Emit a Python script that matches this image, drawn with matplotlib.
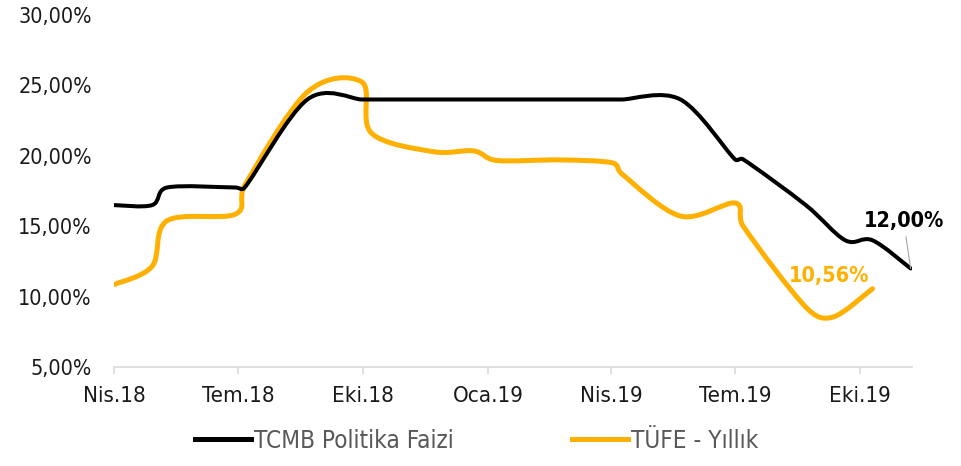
import matplotlib
matplotlib.use("Agg")
import matplotlib.pyplot as plt
import matplotlib.dates as mdates
from matplotlib import font_manager
from matplotlib.path import Path
from matplotlib.patches import PathPatch
from matplotlib.lines import Line2D
from matplotlib.ticker import FuncFormatter
import numpy as np
import pandas as pd

# ---- data ----
cpi_dates = [
    "2018-04-01", "2018-04-29", "2018-05-10", "2018-06-29", "2018-07-06",
    "2018-08-21", "2018-09-30", "2018-10-07", "2018-11-21", "2018-12-21",
    "2019-01-07", "2019-02-23", "2019-04-02", "2019-04-09", "2019-05-22",
    "2019-07-01", "2019-07-07", "2019-08-22", "2019-09-11", "2019-10-10",
]
cpi_values = [
    10.85, 12.15, 15.39, 15.85, 17.90,
    24.52, 25.24, 21.62, 20.30, 20.35,
    19.67, 19.71, 19.50, 18.71, 15.72,
    16.65, 15.01, 9.26, 8.55, 10.56,
]

rate_dates = [
    "2018-04-01", "2018-04-29", "2018-05-10", "2018-06-29", "2018-07-06",
    "2018-08-21", "2018-09-30", "2018-10-07", "2018-11-21", "2018-12-21",
    "2019-01-07", "2019-02-23", "2019-04-02", "2019-04-09", "2019-05-22",
    "2019-07-01", "2019-07-07", "2019-08-22", "2019-09-20", "2019-10-10",
    "2019-11-07",
]
rate_values = [
    16.50, 16.50, 17.75, 17.75, 17.75,
    24.00, 24.00, 24.00, 24.00, 24.00,
    24.00, 24.00, 24.00, 24.00, 24.00,
    19.75, 19.75, 16.50, 14.00, 14.00,
    12.00,
]

tick_dates = ["2018-04-01", "2018-07-01", "2018-10-01", "2019-01-01",
              "2019-04-01", "2019-07-01", "2019-10-01"]
tick_labels = ["Nis.18", "Tem.18", "Eki.18", "Oca.19", "Nis.19", "Tem.19", "Eki.19"]

RATE_NAME = "TCMB Politika Faizi"
CPI_NAME = "TÜFE - Yıllık"
RATE_COLOR = "#000000"
CPI_COLOR = "#FFB000"


def pick_font():
    """Prefer a condensed sans (the reference uses a narrow face)."""
    entries = font_manager.fontManager.ttflist
    for e in entries:
        if e.name == "DejaVu Sans" and "condensed" in str(e.stretch) and e.weight in (400, "normal"):
            return "DejaVu Sans", "condensed", 15.5
    names = {e.name for e in entries}
    if "Liberation Sans Narrow" in names:
        return "Liberation Sans Narrow", "normal", 16
    return "DejaVu Sans", "normal", 13.5


FONT, STRETCH, FS = pick_font()
plt.rcParams["font.family"] = [FONT, "DejaVu Sans"]
plt.rcParams["font.stretch"] = STRETCH


def smooth_path(ax, xs, ys):
    """Excel-like smoothed line: Bezier segments, Catmull-Rom tangents capped
    at half the segment length (computed in pixel space)."""
    pts = ax.transData.transform(np.column_stack([xs, ys]))
    n = len(pts)
    verts = [pts[0]]
    codes = [Path.MOVETO]
    for i in range(n - 1):
        p0 = pts[i - 1] if i > 0 else pts[i]
        p1 = pts[i]
        p2 = pts[i + 1]
        p3 = pts[i + 2] if i + 2 < n else pts[i + 1]
        d02 = np.hypot(*(p2 - p0))
        d12 = np.hypot(*(p2 - p1))
        d13 = np.hypot(*(p3 - p1))
        fa = 1 / 6 if d02 / 6 < d12 / 2 else d12 / (2 * d02)
        fb = 1 / 6 if d13 / 6 < d12 / 2 else d12 / (2 * d13)
        c1 = p1 + fa * (p2 - p0)
        c2 = p2 - fb * (p3 - p1)
        verts += [c1, c2, p2]
        codes += [Path.CURVE4] * 3
    verts = ax.transData.inverted().transform(np.array(verts))
    return Path(verts, codes)


def main() -> None:
    rate_x = mdates.date2num(pd.to_datetime(rate_dates))
    cpi_x = mdates.date2num(pd.to_datetime(cpi_dates))
    ticks_x = mdates.date2num(pd.to_datetime(tick_dates))

    fig = plt.figure(figsize=(9.61, 4.66), dpi=100)
    ax = fig.add_axes([0.1186, 0.2124, 0.8304, 0.7554])

    x0 = mdates.date2num(pd.Timestamp("2018-04-01"))
    x1 = mdates.date2num(pd.Timestamp("2019-11-08"))
    ax.set_xlim(x0, x1)
    ax.set_ylim(5, 30)

    ax.add_patch(PathPatch(smooth_path(ax, cpi_x, cpi_values), fill=False,
                           edgecolor=CPI_COLOR, lw=3.6, capstyle="round",
                           joinstyle="round", zorder=2))
    ax.add_patch(PathPatch(smooth_path(ax, rate_x, rate_values), fill=False,
                           edgecolor=RATE_COLOR, lw=2.9, capstyle="round",
                           joinstyle="round", zorder=3))

    ax.set_xticks(ticks_x)
    ax.set_xticklabels(tick_labels)
    ax.set_yticks([5, 10, 15, 20, 25, 30])
    ax.yaxis.set_major_formatter(FuncFormatter(lambda v, _: f"{v:.2f}%".replace(".", ",")))

    for side in ("top", "right", "left"):
        ax.spines[side].set_visible(False)
    ax.spines["bottom"].set_color("#D9D9D9")
    ax.spines["bottom"].set_linewidth(1.2)
    ax.tick_params(axis="x", direction="out", length=5, width=1.2, color="#D9D9D9",
                   labelsize=FS + 0.5, labelcolor="#1A1A1A", pad=9)
    ax.tick_params(axis="y", length=0, labelsize=FS, labelcolor="#1A1A1A", pad=16)

    # end-of-series labels
    ax.annotate("12,00%", xy=(rate_x[-1], rate_values[-1]), xytext=(-5, 34),
                textcoords="offset points", ha="center", va="center",
                fontsize=FS, fontweight="bold", color=RATE_COLOR,
                arrowprops=dict(arrowstyle="-", color="#A6A6A6", lw=0.8,
                                shrinkA=2, shrinkB=0))
    ax.annotate("10,56%", xy=(cpi_x[-1], cpi_values[-1]), xytext=(-31, 9),
                textcoords="offset points", ha="center", va="center",
                fontsize=FS, fontweight="bold", color=CPI_COLOR)

    handles = [Line2D([], [], color=RATE_COLOR, lw=3.6),
               Line2D([], [], color=CPI_COLOR, lw=3.6)]
    fig.legend(handles, [RATE_NAME, CPI_NAME], loc="center", ncol=2,
               bbox_to_anchor=(0.496, 0.054), frameon=False, fontsize=FS + 2,
               labelcolor="#595959", handlelength=2.3, handletextpad=0.1,
               columnspacing=4.9)

    fig.savefig("out.png", dpi=100)
    plt.close(fig)


if __name__ == "__main__":
    main()
